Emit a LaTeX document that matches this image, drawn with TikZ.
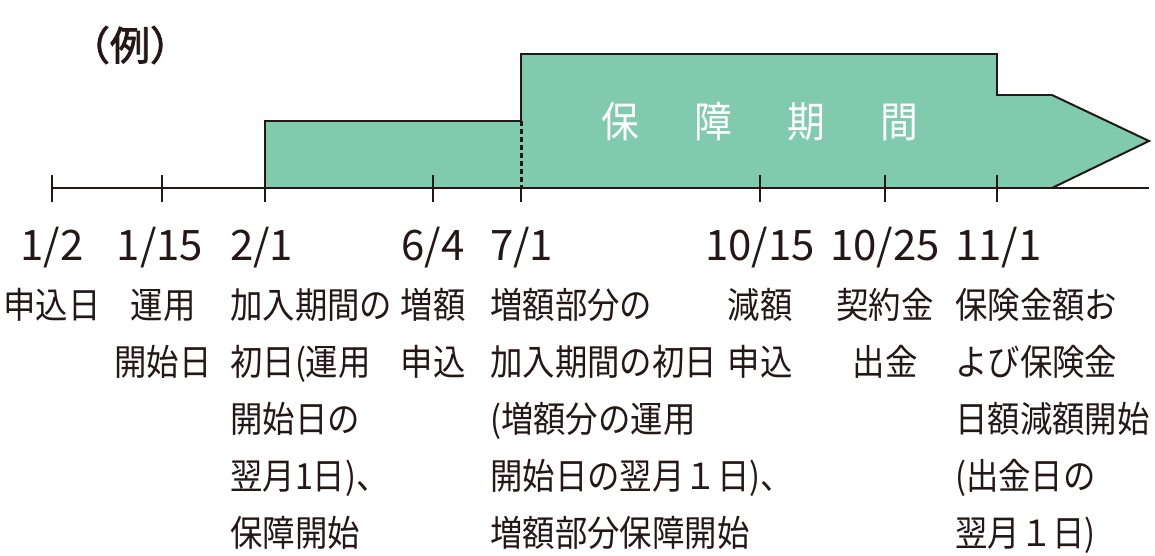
\documentclass[tikz,border=0pt]{standalone}
\usepackage{fontspec}
\newfontfamily\jp[FakeStretch=0.9]{Noto Sans CJK JP}
\newfontfamily\jpn{Noto Sans CJK JP}
\newfontfamily\jpb[FakeBold=2]{Noto Sans CJK JP}
\definecolor{ink}{HTML}{231815}
\definecolor{band}{HTML}{80CBAD}
\begin{document}
\begin{tikzpicture}[x=1pt,y=-1pt,
  date/.style={font=\jpn\fontsize{42}{42}\selectfont, text=ink, inner sep=0pt},
  lab/.style={font=\jp\fontsize{36}{36}\selectfont, text=ink, inner sep=0pt},
  edge/.style={draw=ink, line width=2.8pt},
  tickmark/.style={draw=ink, line width=2pt}]
\useasboundingbox (0,0) rectangle (1155,556);
% band
\fill[band] (265,188) -- (265,121) -- (521,121) -- (521,54) -- (997,54) -- (997,95) -- (1052,95) -- (1149,141) -- (1052,188) -- cycle;
\draw[edge, line join=miter] (265,188) -- (265,121) -- (521,121);
\draw[edge, line join=miter] (521,121) -- (521,54) -- (997,54) -- (997,95) -- (1052,95);
\draw[draw=ink, line width=2pt, line join=miter] (1052,95) -- (1149,141) -- (1052,188);
\draw[draw=ink, line width=3pt, dash pattern=on 5pt off 3pt] (521,121) -- (521,188);
% axis
\draw[edge] (52,188) -- (1052,188);
\draw[draw=ink, line width=1.8pt] (1052,188) -- (1149,188);
\foreach \x in {52,162,265,433,760,885,997} \draw[tickmark] (\x,175) -- (\x,202);
\draw[tickmark] (521,188) -- (521,202);
% title
\node[font=\jpb\fontsize{40}{40}\selectfont, text=ink, inner sep=0pt] (title) at (130,45) {（例）};
\node[font=\jp\fontsize{42}{42}\selectfont, text=white, inner sep=0pt] (bandlabel) at (760,122) {保\hspace{55pt}障\hspace{55pt}期\hspace{55pt}間};
% column 1
\node[date, anchor=base] (d1) at (52,260) {1/2};
\node[lab, anchor=base] (l1a) at (52,318) {申込日};
% column 2
\node[date, anchor=base] (d2) at (160,260) {1/15};
\node[lab, anchor=base] (l2a) at (163,318) {運用};
\node[lab, anchor=base] (l2b) at (163,375) {開始日};
% column 3
\node[date, anchor=base west] (d3) at (230,260) {2/1};
\node[lab, anchor=base west] (l3a) at (230,318) {加入期間の};
\node[lab, anchor=base west] (l3b) at (230,375) {初日(運用};
\node[lab, anchor=base west] (l3c) at (230,432) {開始日の};
\node[lab, anchor=base west] (l3d) at (230,489) {翌月1日)、};
\node[lab, anchor=base west] (l3e) at (230,546) {保障開始};
% column 4
\node[date, anchor=base] (d4) at (433,260) {6/4};
\node[lab, anchor=base] (l4a) at (433,318) {増額};
\node[lab, anchor=base] (l4b) at (433,375) {申込};
% column 5
\node[date, anchor=base west] (d5) at (490,260) {7/1};
\node[lab, anchor=base west] (l5a) at (490,318) {増額部分の};
\node[lab, anchor=base west] (l5b) at (490,375) {加入期間の初日};
\node[lab, anchor=base west] (l5c) at (490,432) {(増額分の運用};
\node[lab, anchor=base west] (l5d) at (490,489) {開始日の翌月１日)、};
\node[lab, anchor=base west] (l5e) at (490,546) {増額部分保障開始};
% column 6
\node[date, anchor=base] (d6) at (760,260) {10/15};
\node[lab, anchor=base] (l6a) at (760,318) {減額};
\node[lab, anchor=base] (l6b) at (760,375) {申込};
% column 7
\node[date, anchor=base] (d7) at (885,260) {10/25};
\node[lab, anchor=base] (l7a) at (885,318) {契約金};
\node[lab, anchor=base] (l7b) at (885,375) {出金};
% column 8
\node[date, anchor=base west] (d8) at (955,260) {11/1};
\node[lab, anchor=base west] (l8a) at (955,318) {保険金額お};
\node[lab, anchor=base west] (l8b) at (955,375) {よび保険金};
\node[lab, anchor=base west] (l8c) at (955,432) {日額減額開始};
\node[lab, anchor=base west] (l8d) at (955,489) {(出金日の};
\node[lab, anchor=base west] (l8e) at (955,546) {翌月１日)};
\end{tikzpicture}
\end{document}
